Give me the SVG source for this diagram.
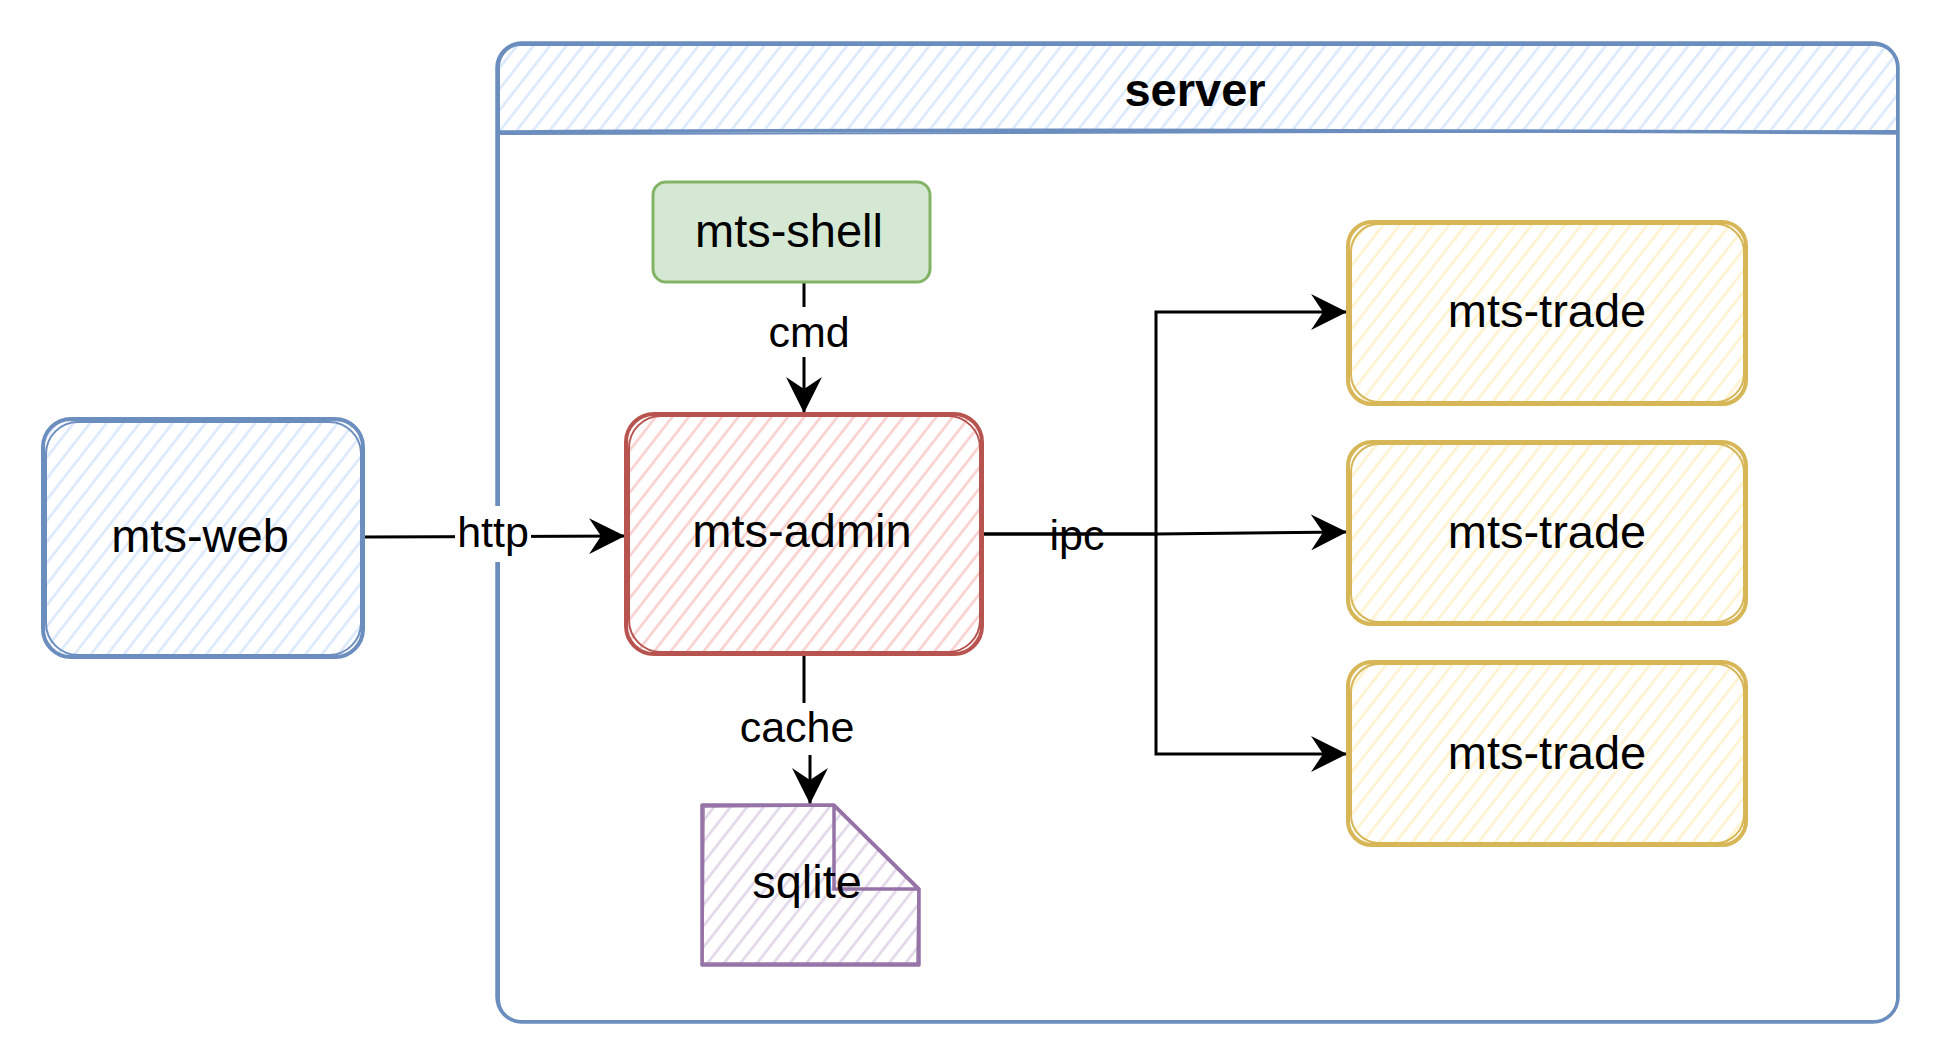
<svg xmlns="http://www.w3.org/2000/svg" width="1940" height="1064" viewBox="0 0 1940 1064">
<style>
.lbl{font-family:"Liberation Sans",Arial,sans-serif;font-size:47px;fill:#000;text-anchor:middle}
.elbl{font-family:"Liberation Sans",Arial,sans-serif;font-size:43px;fill:#000;text-anchor:middle}
.title{font-family:"Liberation Sans",Arial,sans-serif;font-size:47px;font-weight:bold;fill:#000;text-anchor:middle}
.edge{fill:none;stroke:#000;stroke-width:3}
.sk{stroke-linejoin:round;stroke-linecap:round}
</style>
<defs>
<pattern id="hb" patternUnits="userSpaceOnUse" width="13" height="13" patternTransform="rotate(38)"><line x1="6.5" y1="-1" x2="6.5" y2="14" stroke="#dae8fc" stroke-width="2.5"/></pattern>
<pattern id="hr" patternUnits="userSpaceOnUse" width="13" height="13" patternTransform="rotate(38)"><line x1="6.5" y1="-1" x2="6.5" y2="14" stroke="#f8cecc" stroke-width="2.5"/></pattern>
<pattern id="hy" patternUnits="userSpaceOnUse" width="13" height="13" patternTransform="rotate(38)"><line x1="6.5" y1="-1" x2="6.5" y2="14" stroke="#fff2cc" stroke-width="2.5"/></pattern>
<pattern id="hp" patternUnits="userSpaceOnUse" width="13" height="13" patternTransform="rotate(38)"><line x1="6.5" y1="-1" x2="6.5" y2="14" stroke="#e1d5e7" stroke-width="2.5"/></pattern>
<marker id="arr" markerUnits="userSpaceOnUse" markerWidth="36" markerHeight="36" viewBox="0 0 36 36" refX="36" refY="18" orient="auto"><path d="M0,0 L36,18 L0,36 L12,18 Z" fill="#000"/></marker>
</defs>

<g id="server">
<path d="M497,132 V68 Q497,43 522,43 H1873 Q1898,43 1898,68 V132 Z" fill="url(#hb)"/>
<rect x="497" y="43" width="1401" height="979" rx="25" fill="none" stroke="#6c8ebf" stroke-width="3.5" class="sk"/>
<rect x="499" y="45" width="1398" height="976" rx="22" fill="none" stroke="#6c8ebf" stroke-width="2" class="sk"/>
<path d="M497,132 Q1100,128 1898,133" fill="none" stroke="#6c8ebf" stroke-width="3.5"/>
<path d="M499,134 Q1000,131 1897,131" fill="none" stroke="#6c8ebf" stroke-width="2"/>
<text x="1195" y="106" class="title">server</text>
</g>

<g id="connectors">
<path class="edge" d="M804,282 V413" marker-end="url(#arr)"/>
<rect x="780" y="307" width="58" height="50" fill="#fff"/>
<text x="809" y="347" class="elbl">cmd</text>

<path class="edge" d="M363,537 L625,536" marker-end="url(#arr)"/>
<rect x="455" y="506" width="76" height="56" fill="#fff"/>
<text x="493" y="547" class="elbl">http</text>

<path class="edge" d="M804,654 V728 L810,732 V804" marker-end="url(#arr)"/>
<rect x="740" y="703" width="116" height="52" fill="#fff"/>
<text x="797" y="742" class="elbl">cache</text>

<path class="edge" d="M982,534 H1156 V312 H1347" marker-end="url(#arr)"/>
<path class="edge" d="M982,534 H1156 L1347,532" marker-end="url(#arr)"/>
<path class="edge" d="M1156,534 V754 H1347" marker-end="url(#arr)"/>
<text x="1077" y="550" class="elbl">ipc</text>
</g>

<g id="mts-web">
<rect x="43" y="419" width="320" height="238" rx="28" fill="url(#hb)"/>
<rect x="43" y="419" width="320" height="238" rx="28" fill="none" stroke="#6c8ebf" stroke-width="4"/>
<rect x="46" y="422" width="315" height="233" rx="32" fill="none" stroke="#6c8ebf" stroke-width="2"/>
<text x="200" y="552" class="lbl">mts-web</text>
</g>

<g id="mts-shell">
<rect x="653" y="182" width="277" height="100" rx="13" fill="#d5e8d4" stroke="#82b366" stroke-width="3"/>
<text x="789" y="247" class="lbl">mts-shell</text>
</g>

<g id="mts-admin">
<rect x="626" y="414" width="356" height="240" rx="28" fill="url(#hr)"/>
<rect x="626" y="414" width="356" height="240" rx="28" fill="none" stroke="#b85450" stroke-width="4"/>
<rect x="629" y="416" width="351" height="236" rx="32" fill="none" stroke="#b85450" stroke-width="2"/>
<text x="802" y="547" class="lbl">mts-admin</text>
</g>

<g id="sqlite">
<path d="M702,805 L834,805 L919,889 L919,965 L702,965 Z" fill="url(#hp)"/>
<path d="M702,805 L834,805 L919,889 L919,965 L702,965 Z" fill="none" stroke="#9673a6" stroke-width="3.5" stroke-linejoin="round"/>
<path d="M704,807 L833,806 L918,890 L917,963 L703,963 Z" fill="none" stroke="#9673a6" stroke-width="1.5" stroke-linejoin="round"/>
<path d="M834,805 L834,889 L919,889" fill="none" stroke="#9673a6" stroke-width="3.5"/>
<text x="807" y="898" class="lbl">sqlite</text>
</g>

<g id="mts-trade-1">
<rect x="1348" y="222" width="398" height="182" rx="24" fill="url(#hy)"/>
<rect x="1348" y="222" width="398" height="182" rx="24" fill="none" stroke="#d6b656" stroke-width="4"/>
<rect x="1351" y="224" width="393" height="178" rx="28" fill="none" stroke="#d6b656" stroke-width="2"/>
<text x="1547" y="327" class="lbl">mts-trade</text>
</g>
<g id="mts-trade-2">
<rect x="1348" y="442" width="398" height="182" rx="24" fill="url(#hy)"/>
<rect x="1348" y="442" width="398" height="182" rx="24" fill="none" stroke="#d6b656" stroke-width="4"/>
<rect x="1351" y="444" width="393" height="178" rx="28" fill="none" stroke="#d6b656" stroke-width="2"/>
<text x="1547" y="548" class="lbl">mts-trade</text>
</g>
<g id="mts-trade-3">
<rect x="1348" y="662" width="398" height="183" rx="24" fill="url(#hy)"/>
<rect x="1348" y="662" width="398" height="183" rx="24" fill="none" stroke="#d6b656" stroke-width="4"/>
<rect x="1351" y="664" width="393" height="179" rx="28" fill="none" stroke="#d6b656" stroke-width="2"/>
<text x="1547" y="769" class="lbl">mts-trade</text>
</g>
</svg>
